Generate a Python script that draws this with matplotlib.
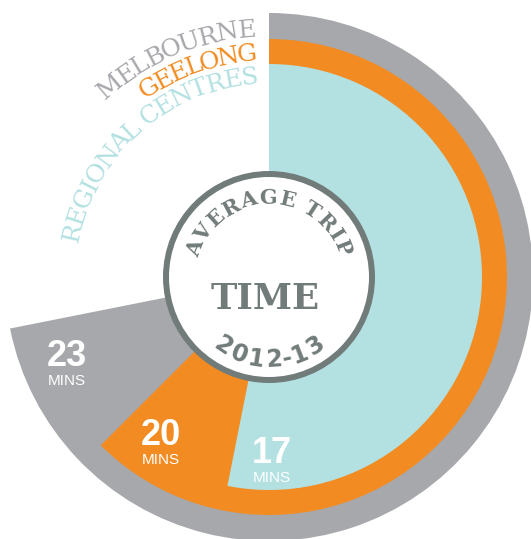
import numpy as np
import matplotlib
matplotlib.use('Agg')
import matplotlib.pyplot as plt
from matplotlib.patches import Wedge, Circle
from matplotlib.font_manager import FontProperties
from matplotlib.textpath import TextToPath

# data
regions = ['MELBOURNE', 'GEELONG', 'REGIONAL CENTRES']
minutes = [23, 20, 17]
FULL_TURN = 32  # minutes for 360 degrees

# style / layout
colors = ['#a7a8ac', '#f28c22', '#b3e0e1']
ring_color = '#717b7a'
W, H, DPI = 531, 539, 100
CX, CY = 269, 277
wedge_r = [264, 238, 213]
name_r = [241, 217, 194]
name_start = [-43, -35, -80]
label_r = [220, 198, 184]

fig = plt.figure(figsize=(W / DPI, H / DPI), dpi=DPI)
ax = fig.add_axes([0, 0, 1, 1])
ax.set_xlim(0, W)
ax.set_ylim(H, 0)
ax.axis('off')

t2p = TextToPath()


def advance(ch, fp):
    # advance width in px, measured between two reference glyphs
    w1 = t2p.get_text_width_height_descent('X' + ch + 'X', fp, ismath=False)[0]
    w0 = t2p.get_text_width_height_descent('XX', fp, ismath=False)[0]
    return (w1 - w0) * DPI / 72


def xy(a, r):
    # a = degrees clockwise from 12 o'clock
    t = np.radians(a)
    return CX + r * np.sin(t), CY - r * np.cos(t)


def arc_text(s, r, a0, a1, fp, color, outward=True):
    """spread s along radius r from angle a0 to a1 (clockwise degrees)"""
    widths = [advance(ch, fp) for ch in s]
    arc = np.radians(abs(a1 - a0)) * r
    track = (arc - sum(widths)) / max(len(s) - 1, 1)
    pos = 0.0
    for ch, w in zip(s, widths):
        mid = pos + w / 2
        if outward:
            a = a0 + np.degrees(mid / r)
            rot = -a
        else:
            a = a0 - np.degrees(mid / r)
            rot = 180 - a
        x, y = xy(a, r)
        ax.text(x, y, ch, fontproperties=fp, color=color, rotation=rot,
                rotation_mode='anchor', ha='center', va='baseline')
        pos += w + track


deg_per_min = 360 / FULL_TURN

# wedges, biggest first
for val, r, c in zip(minutes, wedge_r, colors):
    ax.add_patch(Wedge((CX, CY), r, -90, -90 + val * deg_per_min,
                       facecolor=c, edgecolor='none'))

# value labels
big = FontProperties(family='Liberation Sans', weight='bold', size=26)
small = FontProperties(family='Liberation Sans', size=11)
for val, r in zip(minutes, label_r):
    x, y = xy(val * deg_per_min - 12, r)
    ax.text(x, y + 2, str(val), fontproperties=big, color='white',
            ha='center', va='baseline')
    ax.text(x, y + 21, 'MINS', fontproperties=small, color='white',
            ha='center', va='baseline')

# region names curved along the top-left
name_fp = FontProperties(family='DejaVu Serif', size=18)
for name, r, a0, c in zip(regions, name_r, name_start, colors):
    arc_text(name, r, a0, -3, name_fp, c)

# centre badge
ax.add_patch(Circle((CX, CY), 103, facecolor='white', edgecolor=ring_color,
                    linewidth=6 * 72 / DPI))
ax.text(CX - 4, CY + 32, 'TIME', color=ring_color, ha='center', va='baseline',
        fontproperties=FontProperties(family='DejaVu Serif', weight='bold', size=25.5))
arc_text('AVERAGE TRIP', 73, -75, 75,
         FontProperties(family='DejaVu Serif', weight='bold', size=15), ring_color)
arc_text('2012-13', 90, 219, 141,
         FontProperties(family='DejaVu Sans', weight='bold', size=17), ring_color,
         outward=False)

fig.savefig('out.png', dpi=DPI)
